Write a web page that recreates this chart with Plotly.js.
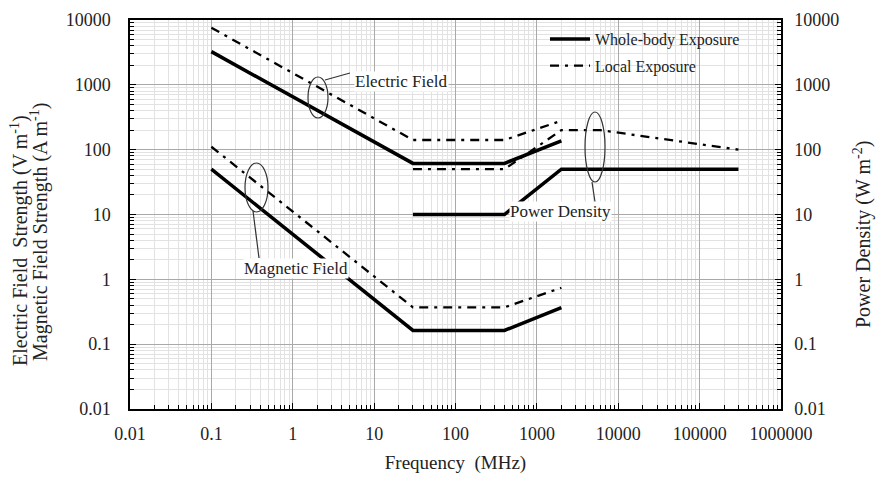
<!DOCTYPE html>
<html>
<head>
<meta charset="utf-8">
<script src="https://cdn.plot.ly/plotly-3.0.1.min.js"></script>
<style>html,body{margin:0;padding:0;background:#fff;}#chart{width:877px;height:486px;}</style>
</head>
<body>
<div id="chart"></div>
<script>
// ---- data ----
const fieldFreq   = [0.1, 30, 400, 2000];            // MHz
const eWhole      = [3250, 61.4, 61.4, 137];         // V/m
const eLocal      = [7600, 141, 141, 280];           // V/m
const hWhole      = [50, 0.163, 0.163, 0.365];       // A/m
const hLocal      = [111, 0.37, 0.37, 0.74];         // A/m
const pdFreqWhole = [30, 400, 2000, 300000];         // MHz
const pdWhole     = [10, 10, 50, 50];                // W/m2
const pdFreqLocal = [30, 400, 2000, 6000, 300000];   // MHz
const pdLocal     = [50, 50, 200, 200, 100];         // W/m2

const xTickVals   = [0.01, 0.1, 1, 10, 100, 1000, 10000, 100000, 1000000];
const xTickLabels = ['0.01', '0.1', '1', '10', '100', '1000', '10000', '100000', '1000000'];
const yTickVals   = [0.01, 0.1, 1, 10, 100, 1000, 10000];
const yTickLabels = ['0.01', '0.1', '1', '10', '100', '1000', '10000'];

const seriesNames = ['Whole-body Exposure', 'Local Exposure'];
const leftTitle1  = 'Electric Field  Strength (V m<sup>-1</sup>)';
const leftTitle2  = 'Magnetic Field Strength (A m<sup>-1</sup>)';
const rightTitle  = 'Power Density (W m<sup>-2</sup>)';
const xTitle      = 'Frequency  (MHz)';

// ---- styles ----
const FONT = "'Liberation Serif', 'Times New Roman', serif";
const solid = {color: '#000', width: 3.5};
const dashdot = {color: '#000', width: 2.3, dash: '9px,6px,3px,6px'};

const traces = [
  {x: fieldFreq, y: eWhole, name: seriesNames[0], legendgroup: 'w', showlegend: true, line: solid},
  {x: fieldFreq, y: eLocal, name: seriesNames[1], legendgroup: 'l', showlegend: true, line: dashdot},
  {x: fieldFreq, y: hWhole, name: seriesNames[0], legendgroup: 'w', showlegend: false, line: solid},
  {x: fieldFreq, y: hLocal, name: seriesNames[1], legendgroup: 'l', showlegend: false, line: dashdot},
  {x: pdFreqWhole, y: pdWhole, name: seriesNames[0], legendgroup: 'w', showlegend: false, line: solid, yaxis: 'y2'},
  {x: pdFreqLocal, y: pdLocal, name: seriesNames[1], legendgroup: 'l', showlegend: false, line: dashdot, yaxis: 'y2'}
].map(t => Object.assign({type: 'scatter', mode: 'lines', hoverinfo: 'skip'}, t));

const tickFont = {family: FONT, size: 18, color: '#222'};
const minorCfg = {dtick: 'D1', ticks: 'inside', ticklen: 4, tickcolor: '#000', tickwidth: 1, showgrid: true, gridcolor: '#e2e2e2', gridwidth: 1};

function pxX(p) { return (p - 130) / 651; }
function pxY(p) { return (409 - p) / 389; }
const deco = {color: '#333', width: 1.2};
const labelFont = {family: FONT, size: 17, color: '#222'};
const titleFont = {family: FONT, size: 20, color: '#222'};

const layout = {
  width: 877, height: 486,
  margin: {l: 130, r: 96, t: 20, b: 77},
  paper_bgcolor: '#fff', plot_bgcolor: '#fff',
  showlegend: true,
  font: {family: FONT, color: '#222'},
  xaxis: {
    type: 'log', range: [-2, 6],
    tickmode: 'array', tickvals: xTickVals, ticktext: xTickLabels,
    ticks: 'inside', ticklen: 6, tickcolor: '#000', tickwidth: 1,
    minor: minorCfg,
    showgrid: true, gridcolor: '#a9a9a9', gridwidth: 1,
    showline: true, linecolor: '#000', linewidth: 1.6, mirror: true,
    zeroline: false, ticklabelstandoff: 8, tickfont: tickFont,
    title: {text: xTitle, font: {family: FONT, size: 19, color: '#222'}, standoff: 12},
    automargin: false
  },
  yaxis: {
    type: 'log', range: [-2, 4],
    tickmode: 'array', tickvals: yTickVals, ticktext: yTickLabels,
    ticks: 'inside', ticklen: 6, tickcolor: '#000', tickwidth: 1,
    minor: minorCfg,
    showgrid: true, gridcolor: '#a9a9a9', gridwidth: 1,
    showline: true, linecolor: '#000', linewidth: 1.6,
    zeroline: false, ticklabelstandoff: 14, tickfont: tickFont,
    automargin: false
  },
  yaxis2: {
    type: 'log', range: [-2, 4], overlaying: 'y', side: 'right',
    tickmode: 'array', tickvals: yTickVals, ticktext: yTickLabels,
    ticks: 'inside', ticklen: 6, tickcolor: '#000', tickwidth: 1,
    minor: {dtick: 'D1', ticks: 'inside', ticklen: 4, tickcolor: '#000', tickwidth: 1, showgrid: false},
    showgrid: false, showline: true, linecolor: '#000', linewidth: 1.6,
    zeroline: false, ticklabelstandoff: 8, tickfont: tickFont,
    automargin: false
  },
  legend: {
    x: pxX(545), y: pxY(22), xanchor: 'left', yanchor: 'top',
    bgcolor: 'rgba(0,0,0,0)', borderwidth: 0,
    font: {family: FONT, size: 16, color: '#222'},
    itemwidth: 40, tracegroupgap: 3
  },
  shapes: [
    {type: 'rect', xref: 'paper', yref: 'paper', x0: pxX(538), x1: 1, y0: pxY(85), y1: 1,
     fillcolor: '#fff', line: {width: 0}, layer: 'between'},
    // Electric field marker
    {type: 'circle', xref: 'paper', yref: 'paper', x0: pxX(308), x1: pxX(328), y0: pxY(118), y1: pxY(77), line: deco},
    {type: 'line', xref: 'paper', yref: 'paper', x0: pxX(325), y0: pxY(80), x1: pxX(350), y1: pxY(73), line: deco},
    // Magnetic field marker
    {type: 'circle', xref: 'paper', yref: 'paper', x0: pxX(245), x1: pxX(268), y0: pxY(212), y1: pxY(163), line: deco},
    {type: 'line', xref: 'paper', yref: 'paper', x0: pxX(253), y0: pxY(211), x1: pxX(259), y1: pxY(258), line: deco},
    // Power density marker
    {type: 'circle', xref: 'paper', yref: 'paper', x0: pxX(585), x1: pxX(605), y0: pxY(182), y1: pxY(112), line: deco},
    {type: 'line', xref: 'paper', yref: 'paper', x0: pxX(592), y0: pxY(182), x1: pxX(595), y1: pxY(202), line: deco}
  ],
  annotations: [
    {text: 'Electric Field', xref: 'paper', yref: 'paper', x: pxX(401), y: pxY(71), showarrow: false,
     font: labelFont, bgcolor: '#fff', borderpad: 0},
    {text: 'Magnetic Field', xref: 'paper', yref: 'paper', x: pxX(243), y: pxY(268), showarrow: false,
     font: labelFont, bgcolor: '#fff', borderpad: 0},
    {text: 'Power Density', xref: 'paper', yref: 'paper', x: pxX(612), y: pxY(211), showarrow: false,
     font: labelFont, bgcolor: '#fff', borderpad: 0},
    // axis titles
    {text: leftTitle1, xref: 'paper', yref: 'paper', x: pxX(19), y: pxY(240), textangle: -90,
     xanchor: 'center', yanchor: 'middle', showarrow: false, font: titleFont},
    {text: leftTitle2, xref: 'paper', yref: 'paper', x: pxX(39), y: pxY(232), textangle: -90,
     xanchor: 'center', yanchor: 'middle', showarrow: false, font: titleFont},
    {text: rightTitle, xref: 'paper', yref: 'paper', x: pxX(862), y: pxY(235), textangle: -90,
     xanchor: 'center', yanchor: 'middle', showarrow: false, font: titleFont}
  ]
};

Plotly.newPlot('chart', traces, layout, {staticPlot: true, displayModeBar: false});
</script>
</body>
</html>
